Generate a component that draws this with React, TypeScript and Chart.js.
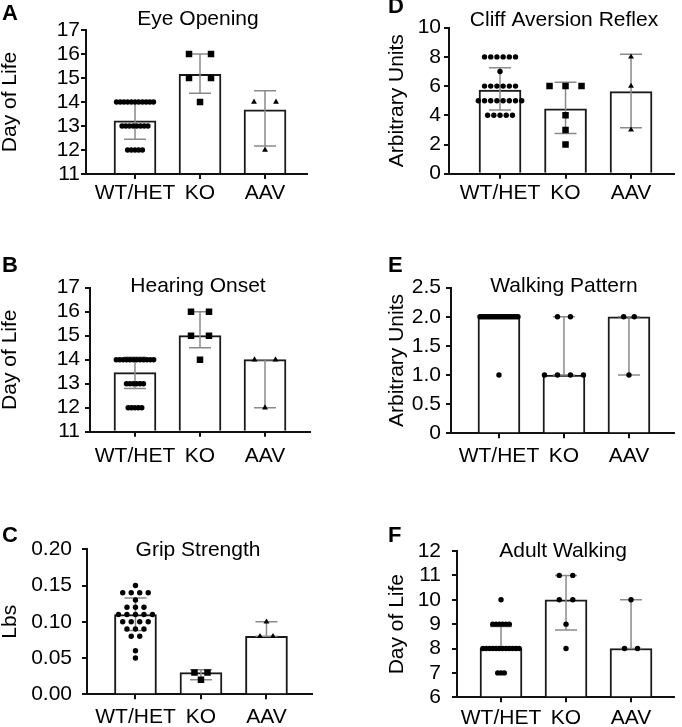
import React, { useEffect, useRef } from "react";
import { Chart, registerables } from "chart.js";

Chart.register(...registerables);

const FONT = '"Liberation Sans", Arial, Helvetica, sans-serif';

const categories = ["WT/HET", "KO", "AAV"];
const panelLetters = ["A", "B", "C", "D", "E", "F"];
const panelTitles = ["Eye Opening", "Hearing Onset", "Grip Strength", "Cliff Aversion Reflex", "Walking Pattern", "Adult Walking"];
const yAxisTitles = ["Day of Life", "Day of Life", "Lbs", "Arbitrary Units", "Arbitrary Units", "Day of Life"];

const yMins = [11, 11, 0, 0, 0, 6];
const yMaxs = [17, 17, 0.2, 10, 2.5, 12];
const ySteps = [1, 1, 0.05, 2, 0.5, 1];
const yDecimals = [0, 0, 2, 0, 1, 0];

// A - Eye Opening
const eyeWT = [14, 14, 14, 14, 14, 14, 14, 14, 14, 14, 14, 13, 13, 13, 13, 13, 13, 13, 13, 12, 12, 12, 12, 12];
const eyeKO = [16, 16, 15, 15, 14];
const eyeAAV = [14, 14, 12];
const eyeBars = [13.22, 15.15, 13.67];
const eyeErrLow = [12.45, 14.36, 12.17];
const eyeErrHigh = [14.0, 16.0, 14.47];

// B - Hearing Onset
const hearWT = [14, 14, 14, 14, 14, 14, 14, 14, 14, 14, 14, 14, 13, 13, 13, 13, 13, 13, 12, 12, 12, 12, 12];
const hearKO = [16, 16, 15, 15, 14];
const hearAAV = [14, 14, 12];
const hearBars = [13.46, 15.0, 14.0];
const hearErrLow = [12.8, 14.5, 12.0];
const hearErrHigh = [14.1, 16.0, 14.0];

// C - Grip Strength
const gripWT = [0.15, 0.14, 0.14, 0.14, 0.14, 0.13, 0.12, 0.12, 0.12, 0.11, 0.11, 0.11, 0.11, 0.11, 0.10, 0.10, 0.10, 0.10, 0.09, 0.09, 0.09, 0.08, 0.08, 0.06, 0.05];
const gripKO = [0.03, 0.03, 0.02];
const gripAAV = [0.10, 0.08, 0.08];
const gripBars = [0.11, 0.03, 0.08];
const gripErrLow = [0.088, 0.02, 0.08];
const gripErrHigh = [0.133, 0.034, 0.10];

// D - Cliff Aversion Reflex
const cliffWT = [8, 8, 8, 8, 8, 8, 7, 6, 6, 6, 6, 6, 6, 5, 5, 5, 5, 5, 5, 5, 5, 4, 4, 4, 4, 4];
const cliffKO = [6, 6, 6, 4, 3, 2];
const cliffAAV = [8, 6, 3];
const cliffBars = [5.73, 4.45, 5.62];
const cliffErrLow = [4.36, 2.76, 3.15];
const cliffErrHigh = [7.26, 6.26, 8.18];

// E - Walking Pattern
const walkWT = [2, 2, 2, 2, 2, 2, 2, 2, 2, 2, 2, 2, 2, 2, 2, 2, 2, 2, 2, 2, 1];
const walkKO = [2, 2, 1, 1, 1, 1];
const walkAAV = [2, 2, 1];
const walkBars = [2, 1, 2];
const walkErrLow = [2, 1, 1];
const walkErrHigh = [2, 2, 2];

// F - Adult Walking
const adultWT = [10, 9, 9, 9, 9, 9, 9, 8, 8, 8, 8, 8, 8, 8, 8, 8, 8, 8, 8, 7, 7, 7];
const adultKO = [11, 11, 10, 10, 9, 8];
const adultAAV = [10, 8, 8];
const adultBars = [8, 10, 8];
const adultErrLow = [8, 8.76, 8];
const adultErrHigh = [8.9, 11, 10];

const panels = [
  { groups: [eyeWT, eyeKO, eyeAAV], bars: eyeBars, low: eyeErrLow, high: eyeErrHigh, styles: ["circle", "rect", "triangle"] },
  { groups: [hearWT, hearKO, hearAAV], bars: hearBars, low: hearErrLow, high: hearErrHigh, styles: ["circle", "rect", "triangle"] },
  { groups: [gripWT, gripKO, gripAAV], bars: gripBars, low: gripErrLow, high: gripErrHigh, styles: ["circle", "rect", "triangle"] },
  { groups: [cliffWT, cliffKO, cliffAAV], bars: cliffBars, low: cliffErrLow, high: cliffErrHigh, styles: ["circle", "rect", "triangle"] },
  { groups: [walkWT, walkKO, walkAAV], bars: walkBars, low: walkErrLow, high: walkErrHigh, styles: ["circle", "circle", "circle"] },
  { groups: [adultWT, adultKO, adultAAV], bars: adultBars, low: adultErrLow, high: adultErrHigh, styles: ["circle", "circle", "circle"] },
];

// Layout (page coordinates)
const layouts = [
  { cx: 0, cy: 0, cw: 330, ch: 215, left: 86, top: 30, right: 307, bottom: 174, xMin: 0.246, xMax: 3.646, tickPad: 1, labelPad: 2, spread: [3.7, 22, 22], letter: [2, 20], title: [198, 25] },
  { cx: 0, cy: 245, cw: 330, ch: 230, left: 90, top: 287.7, right: 310, bottom: 431.7, xMin: 0.308, xMax: 3.692, tickPad: 5, labelPad: 6.5, spread: [3.4, 18, 21], letter: [2, 272], title: [198, 291.7] },
  { cx: 0, cy: 515, cw: 330, ch: 212, left: 87, top: 549.3, right: 312, bottom: 694.3, xMin: 0.26, xMax: 3.695, tickPad: 10, labelPad: 5, spread: [8.5, 13, 13], letter: [2, 542], title: [198, 555.7] },
  { cx: 387, cy: 0, cw: 295, ch: 215, left: 449, top: 27.7, right: 674, bottom: 173.7, xMin: 0.221, xMax: 3.656, tickPad: 3, labelPad: 1.5, spread: [6.2, 16, 16], letter: [388, 13], title: [564, 26] },
  { cx: 387, cy: 245, cw: 295, ch: 230, left: 451, top: 287.7, right: 674, bottom: 433.3, xMin: 0.262, xMax: 3.693, tickPad: 5, labelPad: 5, spread: [2.0, 13, 10.7], letter: [388, 272], title: [564, 292] },
  { cx: 387, cy: 515, cw: 295, ch: 212, left: 457, top: 551, right: 674, bottom: 697.3, xMin: 0.323, xMax: 3.661, tickPad: 11, labelPad: 3, spread: [3.3, 13.5, 13], letter: [388, 542], title: [563, 556.7] },
];

const radiusFor: Record<string, number> = { circle: 2.7, rect: 4.6, triangle: 3.4 };

function buildPoints(groups: number[][], styles: string[], spread: number[], pxPerUnit: number) {
  const pts: { x: number; y: number }[] = [];
  const st: string[] = [];
  const rad: number[] = [];
  groups.forEach((vals, gi) => {
    const counts = new Map<number, number>();
    vals.forEach((v) => counts.set(v, (counts.get(v) || 0) + 1));
    const seen = new Map<number, number>();
    vals.forEach((v) => {
      const n = counts.get(v) || 1;
      const i = seen.get(v) || 0;
      seen.set(v, i + 1);
      const off = ((i - (n - 1) / 2) * spread[gi]) / pxPerUnit;
      pts.push({ x: gi + 1 + off, y: v });
      st.push(styles[gi]);
      rad.push(radiusFor[styles[gi]]);
    });
  });
  return { pts, st, rad };
}

function Panel({ idx }: { idx: number }) {
  const ref = useRef<HTMLCanvasElement | null>(null);
  const L = layouts[idx];
  useEffect(() => {
    const P = panels[idx];
    const pxPerUnit = (L.right - L.left) / (L.xMax - L.xMin);
    const { pts, st, rad } = buildPoints(P.groups, P.styles, L.spread, pxPerUnit);
    const dec = yDecimals[idx];

    const errorPlugin = {
      id: "errorBars" + idx,
      afterDatasetDraw(chart: any, args: any) {
        if (args.index !== 0) return;
        const ctx = chart.ctx;
        const xs = chart.scales.x;
        const ys = chart.scales.y;
        ctx.save();
        ctx.strokeStyle = "#8a8a8a";
        ctx.lineWidth = 1.5;
        P.low.forEach((lo, i) => {
          const hi = P.high[i];
          if (hi - lo < 1e-9) return;
          const x = xs.getPixelForValue(i + 1);
          const y1 = ys.getPixelForValue(lo);
          const y2 = ys.getPixelForValue(hi);
          const cap = 11;
          ctx.beginPath();
          ctx.moveTo(x, y1);
          ctx.lineTo(x, y2);
          ctx.moveTo(x - cap, y1);
          ctx.lineTo(x + cap, y1);
          ctx.moveTo(x - cap, y2);
          ctx.lineTo(x + cap, y2);
          ctx.stroke();
        });
        ctx.restore();
      },
    };

    const textPlugin = {
      id: "panelText" + idx,
      afterDraw(chart: any) {
        const ctx = chart.ctx;
        ctx.save();
        ctx.fillStyle = "#000";
        ctx.textBaseline = "alphabetic";
        ctx.textAlign = "left";
        ctx.font = `bold 22px ${FONT}`;
        ctx.fillText(panelLetters[idx], L.letter[0] - L.cx, L.letter[1] - L.cy);
        ctx.textAlign = "center";
        ctx.font = `21px ${FONT}`;
        ctx.fillText(panelTitles[idx], L.title[0] - L.cx, L.title[1] - L.cy);
        ctx.restore();
      },
    };

    const axisGrid = {
      display: true,
      drawOnChartArea: false,
      drawTicks: true,
      tickLength: 5,
      tickWidth: 2,
      tickColor: "#111",
      color: "#111",
      lineWidth: 2,
      offset: false,
    };
    const axisBorder = { display: true, color: "#111", width: 2 };

    const chart = new Chart(ref.current as HTMLCanvasElement, {
      type: "bar",
      data: {
        datasets: [
          {
            type: "bar",
            data: P.bars.map((v, i) => ({ x: i + 1, y: v })),
            backgroundColor: "#ffffff",
            borderColor: "#1a1a1a",
            borderWidth: 2,
            barThickness: 42,
            base: yMins[idx],
            order: 1,
          } as any,
          {
            type: "scatter",
            data: pts,
            pointStyle: st as any,
            pointRadius: rad,
            pointBackgroundColor: "#000",
            pointBorderColor: "#000",
            pointBorderWidth: 0,
            showLine: false,
            order: 0,
          } as any,
        ],
      },
      options: {
        animation: false,
        responsive: false,
        events: [],
        layout: { padding: { top: L.top - L.cy, right: L.cx + L.cw - L.right, left: 0, bottom: 0 } },
        plugins: { legend: { display: false }, tooltip: { enabled: false }, title: { display: false } },
        scales: {
          x: {
            type: "linear",
            min: L.xMin,
            max: L.xMax,
            offset: false,
            z: 1,
            afterBuildTicks: (s: any) => {
              s.ticks = categories.map((_, i) => ({ value: i + 1 }));
            },
            afterFit: (s: any) => {
              s.height = L.cy + L.ch - L.bottom;
            },
            ticks: {
              callback: (v: any) => categories[Math.round(Number(v)) - 1] ?? "",
              font: { size: 21, family: FONT, lineHeight: 1.2 },
              color: "#000",
              padding: L.labelPad,
              maxRotation: 0,
              minRotation: 0,
              autoSkip: false,
            },
            grid: axisGrid,
            border: axisBorder,
          } as any,
          y: {
            type: "linear",
            min: yMins[idx],
            max: yMaxs[idx],
            afterFit: (s: any) => {
              s.width = L.left - L.cx;
            },
            ticks: {
              stepSize: ySteps[idx],
              autoSkip: false,
              callback: (v: any) => {
                const n = Number(v);
                if (Math.abs(n) < 1e-9 && dec === 1) return "0";
                return n.toFixed(dec);
              },
              font: { size: 21, family: FONT },
              color: "#000",
              padding: L.tickPad,
            },
            title: {
              display: true,
              text: yAxisTitles[idx],
              font: { size: 21, family: FONT, lineHeight: 1 },
              color: "#000",
              padding: 0,
            },
            grid: axisGrid,
            border: axisBorder,
          } as any,
        },
      },
      plugins: [errorPlugin, textPlugin],
    });
    return () => chart.destroy();
  }, [idx]);
  return (
    <canvas
      ref={ref}
      width={L.cw}
      height={L.ch}
      style={{ position: "absolute", left: L.cx, top: L.cy, width: L.cw, height: L.ch }}
    />
  );
}

export default function App() {
  return (
    <div style={{ position: "absolute", left: 0, top: 0, width: 682, height: 727, background: "#fff", overflow: "hidden" }}>
      {panels.map((_, i) => (
        <Panel key={i} idx={i} />
      ))}
    </div>
  );
}
